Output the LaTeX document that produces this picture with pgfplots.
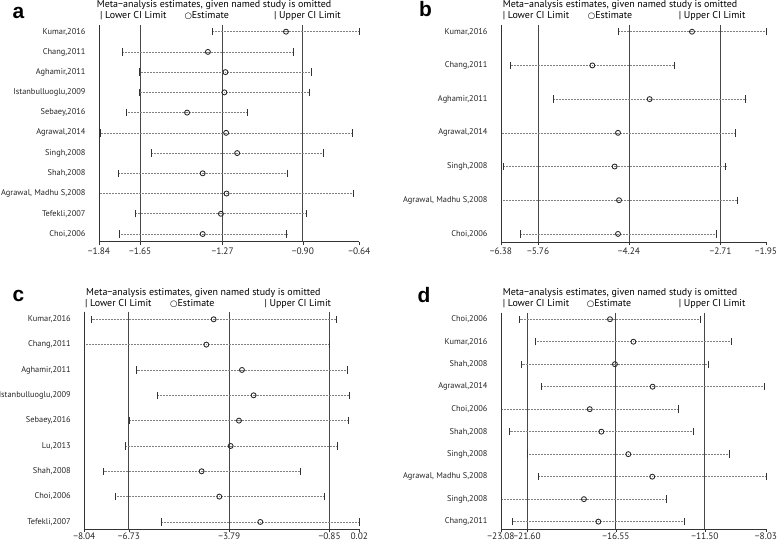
\documentclass[border=0pt]{standalone}
\usepackage{pgfplots}
\pgfplotsset{compat=1.18}
\usepackage{pgfplotstable}
\usepackage{fontspec}
\setmainfont{PT Sans}
\newfontfamily\symfont{DejaVu Sans}
\newfontfamily\labfont{Liberation Sans}

\pgfplotstableread{
row L E U
1 -1.317 -0.978 -0.638
2 -1.732 -1.338 -0.945
3 -1.654 -1.257 -0.862
4 -1.654 -1.262 -0.868
5 -1.715 -1.434 -1.154
6 -1.835 -1.254 -0.674
7 -1.600 -1.203 -0.805
8 -1.751 -1.362 -0.971
9 -1.840 -1.252 -0.665
10 -1.672 -1.278 -0.883
11 -1.748 -1.362 -0.974
}\tabA

\pgfplotstableread{
row L E U
1 -4.419 -3.187 -1.950
2 -6.218 -4.853 -3.482
3 -5.500 -3.895 -2.290
4 -6.380 -4.424 -2.463
5 -6.341 -4.480 -2.624
6 -6.380 -4.407 -2.429
7 -6.057 -4.424 -2.786
}\tabB

\pgfplotstableread{
row L E U
1 -7.825 -4.249 -0.664
2 -8.040 -4.464 -0.869
3 -6.506 -3.419 -0.332
4 -5.900 -3.077 -0.283
5 -6.711 -3.507 -0.303
6 -6.838 -3.751 -0.625
7 -7.473 -4.601 -1.709
8 -7.141 -4.083 -1.016
9 -5.773 -2.882 0.020
}\tabC

\pgfplotstableread{
row L E U
1 -22.02 -16.89 -11.74
2 -21.15 -15.56 -10.00
3 -21.91 -16.61 -11.29
4 -20.81 -14.47 -8.105
5 -23.08 -18.04 -13.01
6 -22.59 -17.38 -12.18
7 -21.58 -15.85 -10.09
8 -20.96 -14.49 -8.03
9 -23.08 -18.37 -13.67
10 -22.42 -17.55 -12.65
}\tabD

\newcommand\tf{\fontsize{10}{12}\selectfont}
\newcommand\yf{\fontsize{8.4}{10}\selectfont}
\newcommand\xf{\fontsize{9.4}{11}\selectfont}

\pgfplotsset{
  sens/.style={
    scale only axis, axis lines*=left, y dir=reverse, clip=false,
    anchor=south west,
    tick align=outside, major tick length=3bp,
    ytick style={draw=none},
    axis line style={black!80, line width=0.8bp},
    xtick style={black!80, line width=0.8bp},
    xticklabel style={font=\xf, text=black!85, inner sep=1.5bp},
    yticklabel style={font=\yf, text=black!85, xshift=-7bp},
    /pgf/number format/assume math mode=true,
  },
  refl/.style={black!72, line width=1bp, mark=none, forget plot},
}

\newcommand\sensplots[1]{%
  \addplot[draw=none, mark=none, error bars/.cd, x dir=both, x explicit,
    error mark=|,
    error bar style={black!50, dash pattern=on 0.7bp off 0.8bp, line width=0.6bp},
    error mark options={solid, black!80, mark size=3.7bp, line width=0.8bp}]
    table[x=E, y=row, x error plus expr=\thisrow{U}-\thisrow{E}, x error minus expr=\thisrow{E}-\thisrow{L}] {#1};
  \addplot[only marks, mark=o, mark size=2.5bp, mark options={black!85, fill=white, line width=0.85bp}]
    table[x=E, y=row] {#1};
}

\newcommand\legendrow[4]{%
  \node[anchor=west, inner sep=0pt, font=\tf] at (#1bp,#4bp) {| Lower CI Limit};
  \node[anchor=west, inner sep=0pt, font=\tf] at (#2bp,#4bp) {{\symfont\fontsize{8.5}{9}\selectfont ○}Estimate};
  \node[anchor=west, inner sep=0pt, font=\tf] at (#3bp,#4bp) {| Upper CI Limit};
}

\begin{document}
\begin{tikzpicture}
\useasboundingbox (0,0) rectangle (778bp,543bp);

% ---------- a ----------
\begin{axis}[sens, at={(99bp,301.3bp)}, width=260.3bp, height=216.7bp,
  xmin=-1.84, xmax=-0.64, ymin=0.67, ymax=11.38,
  xtick={-1.84,-1.65,-1.27,-0.90,-0.64},
  xticklabels={−1.84,−1.65,−1.27,−0.90,−0.64},
  xticklabel style={yshift=-1.5bp},
  ytick={1,...,11},
  yticklabels={{Kumar,2016},{Chang,2011},{Aghamir,2011},{Istanbulluoglu,2009},{Sebaey,2016},{Agrawal,2014},{Singh,2008},{Shah,2008},{Agrawal, Madhu S,2008},{Tefekli,2007},{Choi,2006}}]
  \addplot[refl] coordinates {(-1.65,0.67)(-1.65,11.38)};
  \addplot[refl] coordinates {(-1.27,0.67)(-1.27,11.38)};
  \addplot[refl] coordinates {(-0.90,0.67)(-0.90,11.38)};
  \sensplots{\tabA}
\end{axis}

% ---------- b ----------
\begin{axis}[sens, at={(501bp,301bp)}, width=265bp, height=217bp,
  xmin=-6.38, xmax=-1.95, ymin=0.80, ymax=7.24,
  xtick={-6.38,-5.76,-4.24,-2.71,-1.95},
  xticklabels={−6.38,−5.76,−4.24,−2.71,−1.95},
  xticklabel style={yshift=-1.5bp},
  ytick={1,...,7},
  yticklabels={{Kumar,2016},{Chang,2011},{Aghamir,2011},{Agrawal,2014},{Singh,2008},{Agrawal, Madhu S,2008},{Choi,2006}}]
  \addplot[refl] coordinates {(-5.76,0.80)(-5.76,7.24)};
  \addplot[refl] coordinates {(-4.24,0.80)(-4.24,7.24)};
  \addplot[refl] coordinates {(-2.71,0.80)(-2.71,7.24)};
  \sensplots{\tabB}
\end{axis}

% ---------- c ----------
\begin{axis}[sens, at={(84.3bp,13.7bp)}, width=275bp, height=217.6bp,
  xmin=-8.04, xmax=0.02, ymin=0.70, ymax=9.29,
  xtick={-8.04,-6.73,-3.79,-0.85,0.02},
  xticklabels={−8.04,−6.73,−3.79,−0.85,0.02},
  xticklabel style={yshift=1bp},
  ytick={1,...,9},
  yticklabels={{Kumar,2016},{Chang,2011},{Aghamir,2011},{Istanbulluoglu,2009},{Sebaey,2016},{Lu,2013},{Shah,2008},{Choi,2006},{Tefekli,2007}}]
  \addplot[refl] coordinates {(-6.73,0.70)(-6.73,9.29)};
  \addplot[refl] coordinates {(-3.79,0.70)(-3.79,9.29)};
  \addplot[refl] coordinates {(-0.85,0.70)(-0.85,9.29)};
  \sensplots{\tabC}
\end{axis}

% ---------- d ----------
\begin{axis}[sens, at={(501bp,13.7bp)}, width=265bp, height=216.6bp,
  xmin=-23.08, xmax=-8.03, ymin=0.71, ymax=10.34,
  xtick={-23.08,-21.60,-16.55,-11.50,-8.03},
  xticklabels={−23.08,−21.60,−16.55,−11.50,−8.03},
  xticklabel style={yshift=1bp},
  ytick={1,...,10},
  yticklabels={{Choi,2006},{Kumar,2016},{Shah,2008},{Agrawal,2014},{Choi,2006},{Shah,2008},{Singh,2008},{Agrawal, Madhu S,2008},{Singh,2008},{Chang,2011}}]
  \addplot[refl] coordinates {(-21.60,0.71)(-21.60,10.34)};
  \addplot[refl] coordinates {(-16.55,0.71)(-16.55,10.34)};
  \addplot[refl] coordinates {(-11.50,0.71)(-11.50,10.34)};
  \sensplots{\tabD}
\end{axis}

% titles, legends, panel letters
\node[anchor=west, inner sep=0pt, font=\tf] at (96.7bp,537.5bp) {Meta−analysis estimates, given named study is omitted};
\legendrow{100}{184.3}{274}{527.3}
\node[anchor=west, inner sep=0pt, font=\tf] at (502.7bp,537.5bp) {Meta−analysis estimates, given named study is omitted};
\legendrow{502.7}{587.7}{678.7}{527.3}
\node[anchor=west, inner sep=0pt, font=\tf] at (86bp,250.3bp) {Meta−analysis estimates, given named study is omitted};
\legendrow{85}{170}{264.3}{239.3}
\node[anchor=west, inner sep=0pt, font=\tf] at (502.7bp,250.3bp) {Meta−analysis estimates, given named study is omitted};
\legendrow{502.7}{586.7}{678.7}{239.3}

\node[anchor=base west, inner sep=0pt, font=\labfont\bfseries\fontsize{21}{24}\selectfont] at (12.5bp,524.7bp) {a};
\node[anchor=base west, inner sep=0pt, font=\labfont\bfseries\fontsize{21}{24}\selectfont] at (419bp,526bp) {b};
\node[anchor=base west, inner sep=0pt, font=\labfont\bfseries\fontsize{21}{24}\selectfont] at (12.5bp,241bp) {c};
\node[anchor=base west, inner sep=0pt, font=\labfont\bfseries\fontsize{21}{24}\selectfont] at (417.5bp,240bp) {d};
\end{tikzpicture}
\end{document}
